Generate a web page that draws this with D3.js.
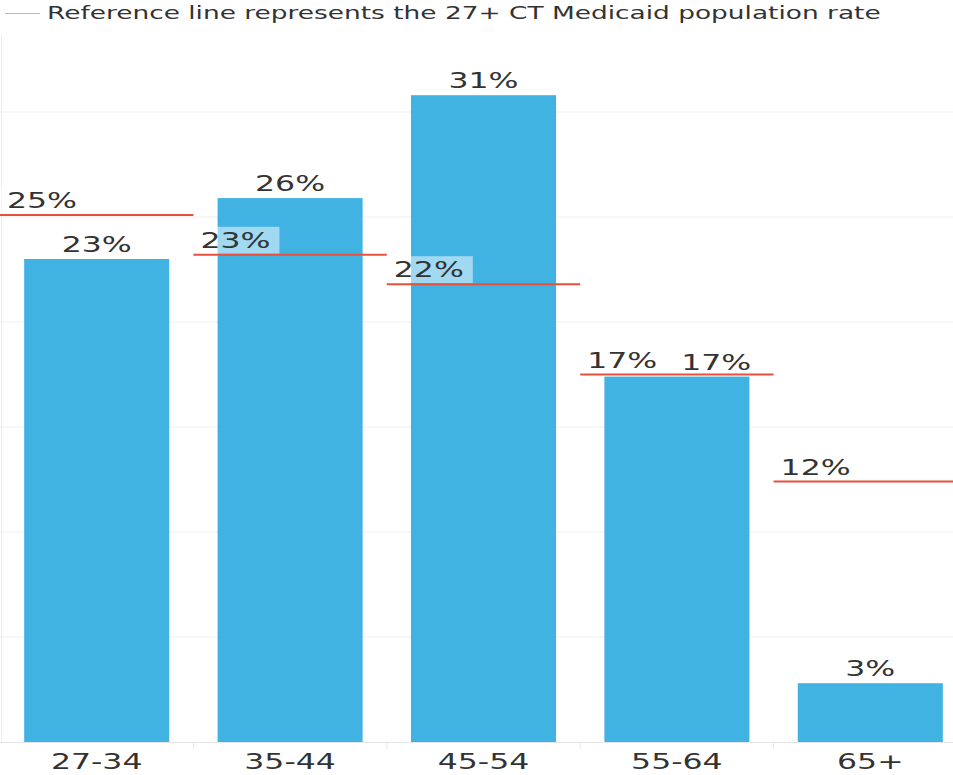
<!DOCTYPE html>
<html>
<head>
<meta charset="utf-8">
<script src="https://cdn.jsdelivr.net/npm/d3@7"></script>
<style>
  html, body { margin: 0; padding: 0; background: #fff; }
  svg { display: block; }
  text { font-family: "DejaVu Sans", sans-serif; fill: #333; }
</style>
</head>
<body>
<div id="chart"></div>
<script>
const categories = ["27-34", "35-44", "45-54", "55-64", "65+"];
const barValues = [23.0, 25.9, 30.8, 17.4, 2.8];
const barLabels = ["23%", "26%", "31%", "17%", "3%"];
const refValues = [25.1, 23.2, 21.8, 17.5, 12.4];
const refLabels = ["25%", "23%", "22%", "17%", "12%"];
const yTicks = [0, 5, 10, 15, 20, 25, 30];
const legendText = "Reference line represents the 27+ CT Medicaid population rate";

const W = 953, H = 775;
const STRETCH = 1.5;
const barColor = "#41b3e3";
const refColor = "#e8503c";
const labelSize = 21;

const svg = d3.select("#chart").append("svg").attr("width", W).attr("height", H);

const x = d3.scaleBand().domain(categories).range([0, 967]).paddingInner(0.25).paddingOuter(0.125);
const y = d3.scaleLinear().domain([0, 35]).range([742, 7]);
const step = x.step();
const bandStart = c => x(c) - step * 0.125;
const plotTop = 35;

function stretch(sel) {
  sel.each(function () {
    const n = this.getComputedTextLength();
    d3.select(this).attr("textLength", n * STRETCH).attr("lengthAdjust", "spacingAndGlyphs");
  });
  return sel;
}

// gridlines
svg.append("g").selectAll("line").data(yTicks.filter(t => t > 0)).join("line")
  .attr("x1", 0).attr("x2", W).attr("y1", d => y(d)).attr("y2", d => y(d))
  .attr("stroke", "#efefef").attr("stroke-width", 1);

// left axis line
svg.append("line").attr("x1", 1.5).attr("x2", 1.5).attr("y1", plotTop).attr("y2", y(0))
  .attr("stroke", "#ececec");

// bars
svg.append("g").selectAll("rect").data(categories).join("rect")
  .attr("x", c => x(c)).attr("width", x.bandwidth())
  .attr("y", (c, i) => y(barValues[i])).attr("height", (c, i) => y(0) - y(barValues[i]))
  .attr("fill", barColor);

// baseline & separators
svg.append("line").attr("x1", 0).attr("x2", W).attr("y1", y(0) + 0.5).attr("y2", y(0) + 0.5)
  .attr("stroke", "#e6e6e6");
svg.append("g").selectAll("line").data(categories.slice(1)).join("line")
  .attr("x1", c => bandStart(c)).attr("x2", c => bandStart(c))
  .attr("y1", y(0)).attr("y2", y(0) + 7).attr("stroke", "#e6e6e6");

// reference label boxes + labels
const refG = svg.append("g");
const refBoxes = [];
categories.forEach((c, i) => {
  const x0 = bandStart(c);
  const yy = y(refValues[i]);
  const box = refG.append("rect").attr("fill", "#fff").attr("fill-opacity", 0.5);
  const t = refG.append("text").attr("x", x0 + 7).attr("y", yy - 7)
    .attr("font-size", labelSize).text(refLabels[i]);
  stretch(t);
  const w = +t.attr("textLength");
  box.attr("x", x0).attr("y", yy - 28).attr("width", w + 16).attr("height", 27);
  refBoxes.push({ x0: x0 + 7, x1: x0 + 7 + w, y0: yy - 24, y1: yy - 7 });
});

// reference lines
svg.append("g").selectAll("line").data(categories).join("line")
  .attr("x1", c => bandStart(c)).attr("x2", c => Math.min(W, bandStart(c) + step))
  .attr("y1", (c, i) => y(refValues[i])).attr("y2", (c, i) => y(refValues[i]))
  .attr("stroke", refColor).attr("stroke-width", 2);

// bar labels with simple collision avoidance
categories.forEach((c, i) => {
  const cx = x(c) + x.bandwidth() / 2;
  const by = y(barValues[i]) - 7;
  const t = svg.append("text").attr("x", cx).attr("y", by).attr("text-anchor", "middle")
    .attr("font-size", labelSize).text(barLabels[i]);
  stretch(t);
  const w = +t.attr("textLength");
  const r = refBoxes[i];
  const l = cx - w / 2, rr = cx + w / 2;
  if (by > r.y0 && by - 17 < r.y1 && l < r.x1 && rr > r.x0) {
    t.attr("x", r.x1 + 24 + w / 2);
  }
});

// x axis labels
svg.append("g").selectAll("text").data(categories).join("text")
  .attr("x", c => x(c) + x.bandwidth() / 2).attr("y", 769).attr("text-anchor", "middle")
  .attr("font-size", labelSize).text(c => c)
  .call(stretch);

// legend
svg.append("line").attr("x1", 5).attr("x2", 40).attr("y1", 13.5).attr("y2", 13.5)
  .attr("stroke", "#f0a198").attr("stroke-width", 1);
svg.append("text").attr("x", 47).attr("y", 19).attr("font-size", 17.6).text(legendText)
  .call(stretch);
</script>
</body>
</html>
